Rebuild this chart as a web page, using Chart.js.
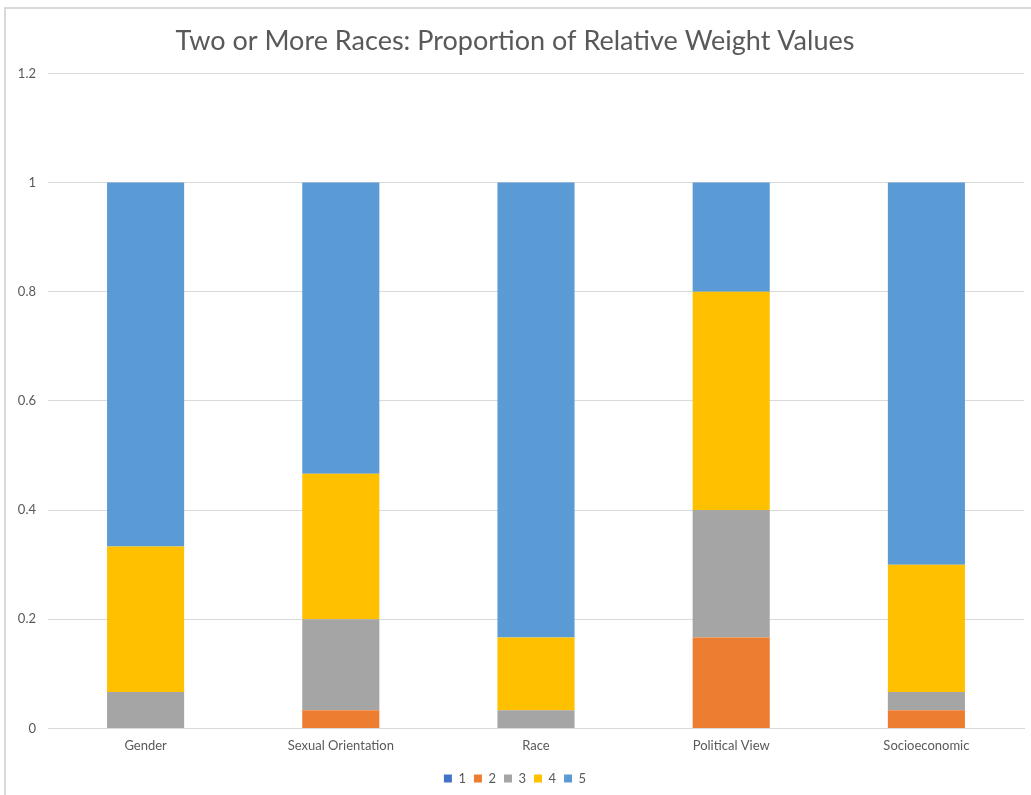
<!DOCTYPE html>
<html>
<head>
<meta charset="utf-8">
<script src="https://cdn.jsdelivr.net/npm/chart.js@4/dist/chart.umd.min.js"></script>
<style>
  body { margin: 0; background: #fff; }
  #wrap {
    position: absolute; left: 4px; top: 7px;
    width: 1027px; height: 788px;
    border-top: 2px solid #d9d9d9; border-left: 2px solid #d9d9d9;
    box-sizing: border-box;
  }
</style>
</head>
<body>
<div id="wrap"><canvas id="chart_weights"></canvas></div>
<script>
const categories = ["Gender", "Sexual Orientation", "Race", "Political View", "Socioeconomic"];
const weight_1 = [0, 0, 0, 0, 0];
const weight_2 = [0, 0.0333, 0, 0.1667, 0.0333];
const weight_3 = [0.0667, 0.1667, 0.0333, 0.2333, 0.0333];
const weight_4 = [0.2667, 0.2667, 0.1333, 0.4, 0.2333];
const weight_5 = [0.6667, 0.5333, 0.8333, 0.2, 0.7];
const y_ticks = [0, 0.2, 0.4, 0.6, 0.8, 1, 1.2];

const fontFamily = "Lato, 'Open Sans', sans-serif";
const textGrey = "#595959";

const chart_weights_canvas = document.getElementById("chart_weights").getContext("2d");

const makeSet = (label, data, color) => ({
  label: label,
  data: data,
  backgroundColor: color,
  borderWidth: 0,
  barPercentage: 0.79,
  categoryPercentage: 0.5,
});

const chart_weights_object = new Chart(chart_weights_canvas, {
  type: "bar",
  data: {
    labels: categories,
    datasets: [
      makeSet("1", weight_1, "#4472C4"),
      makeSet("2", weight_2, "#ED7D31"),
      makeSet("3", weight_3, "#A5A5A5"),
      makeSet("4", weight_4, "#FFC000"),
      makeSet("5", weight_5, "#5B9BD5"),
    ],
  },
  options: {
    responsive: true,
    maintainAspectRatio: false,
    animation: false,
    layout: { padding: { left: 0, right: 7, top: 16, bottom: 0 } },
    plugins: {
      title: {
        display: true,
        text: "Two or More Races: Proportion of Relative Weight Values",
        color: textGrey,
        font: { family: fontFamily, size: 27, weight: "normal" },
        padding: { top: 0, bottom: 16 },
      },
      legend: {
        position: "bottom",
        labels: {
          boxWidth: 8,
          boxHeight: 8,
          padding: 8,
          color: textGrey,
          font: { family: fontFamily, size: 13 },
        },
      },
      tooltip: { enabled: false },
    },
    scales: {
      x: {
        stacked: true,
        grid: { display: false, drawTicks: false },
        border: { color: "#d9d9d9", width: 1 },
        ticks: {
          color: textGrey,
          padding: 10,
          font: { family: fontFamily, size: 13 },
        },
      },
      y: {
        stacked: true,
        min: 0,
        max: 1.2,
        afterBuildTicks: (axis) => {
          axis.ticks = y_ticks.map((v) => ({ value: v }));
        },
        afterFit: (axis) => {
          axis.width = 42;
        },
        grid: { color: "#d9d9d9", drawTicks: false },
        border: { display: false },
        ticks: {
          color: textGrey,
          padding: 12,
          font: { family: fontFamily, size: 13 },
          callback: (value) => String(Math.round(value * 10) / 10),
        },
      },
    },
  },
});
</script>
</body>
</html>
